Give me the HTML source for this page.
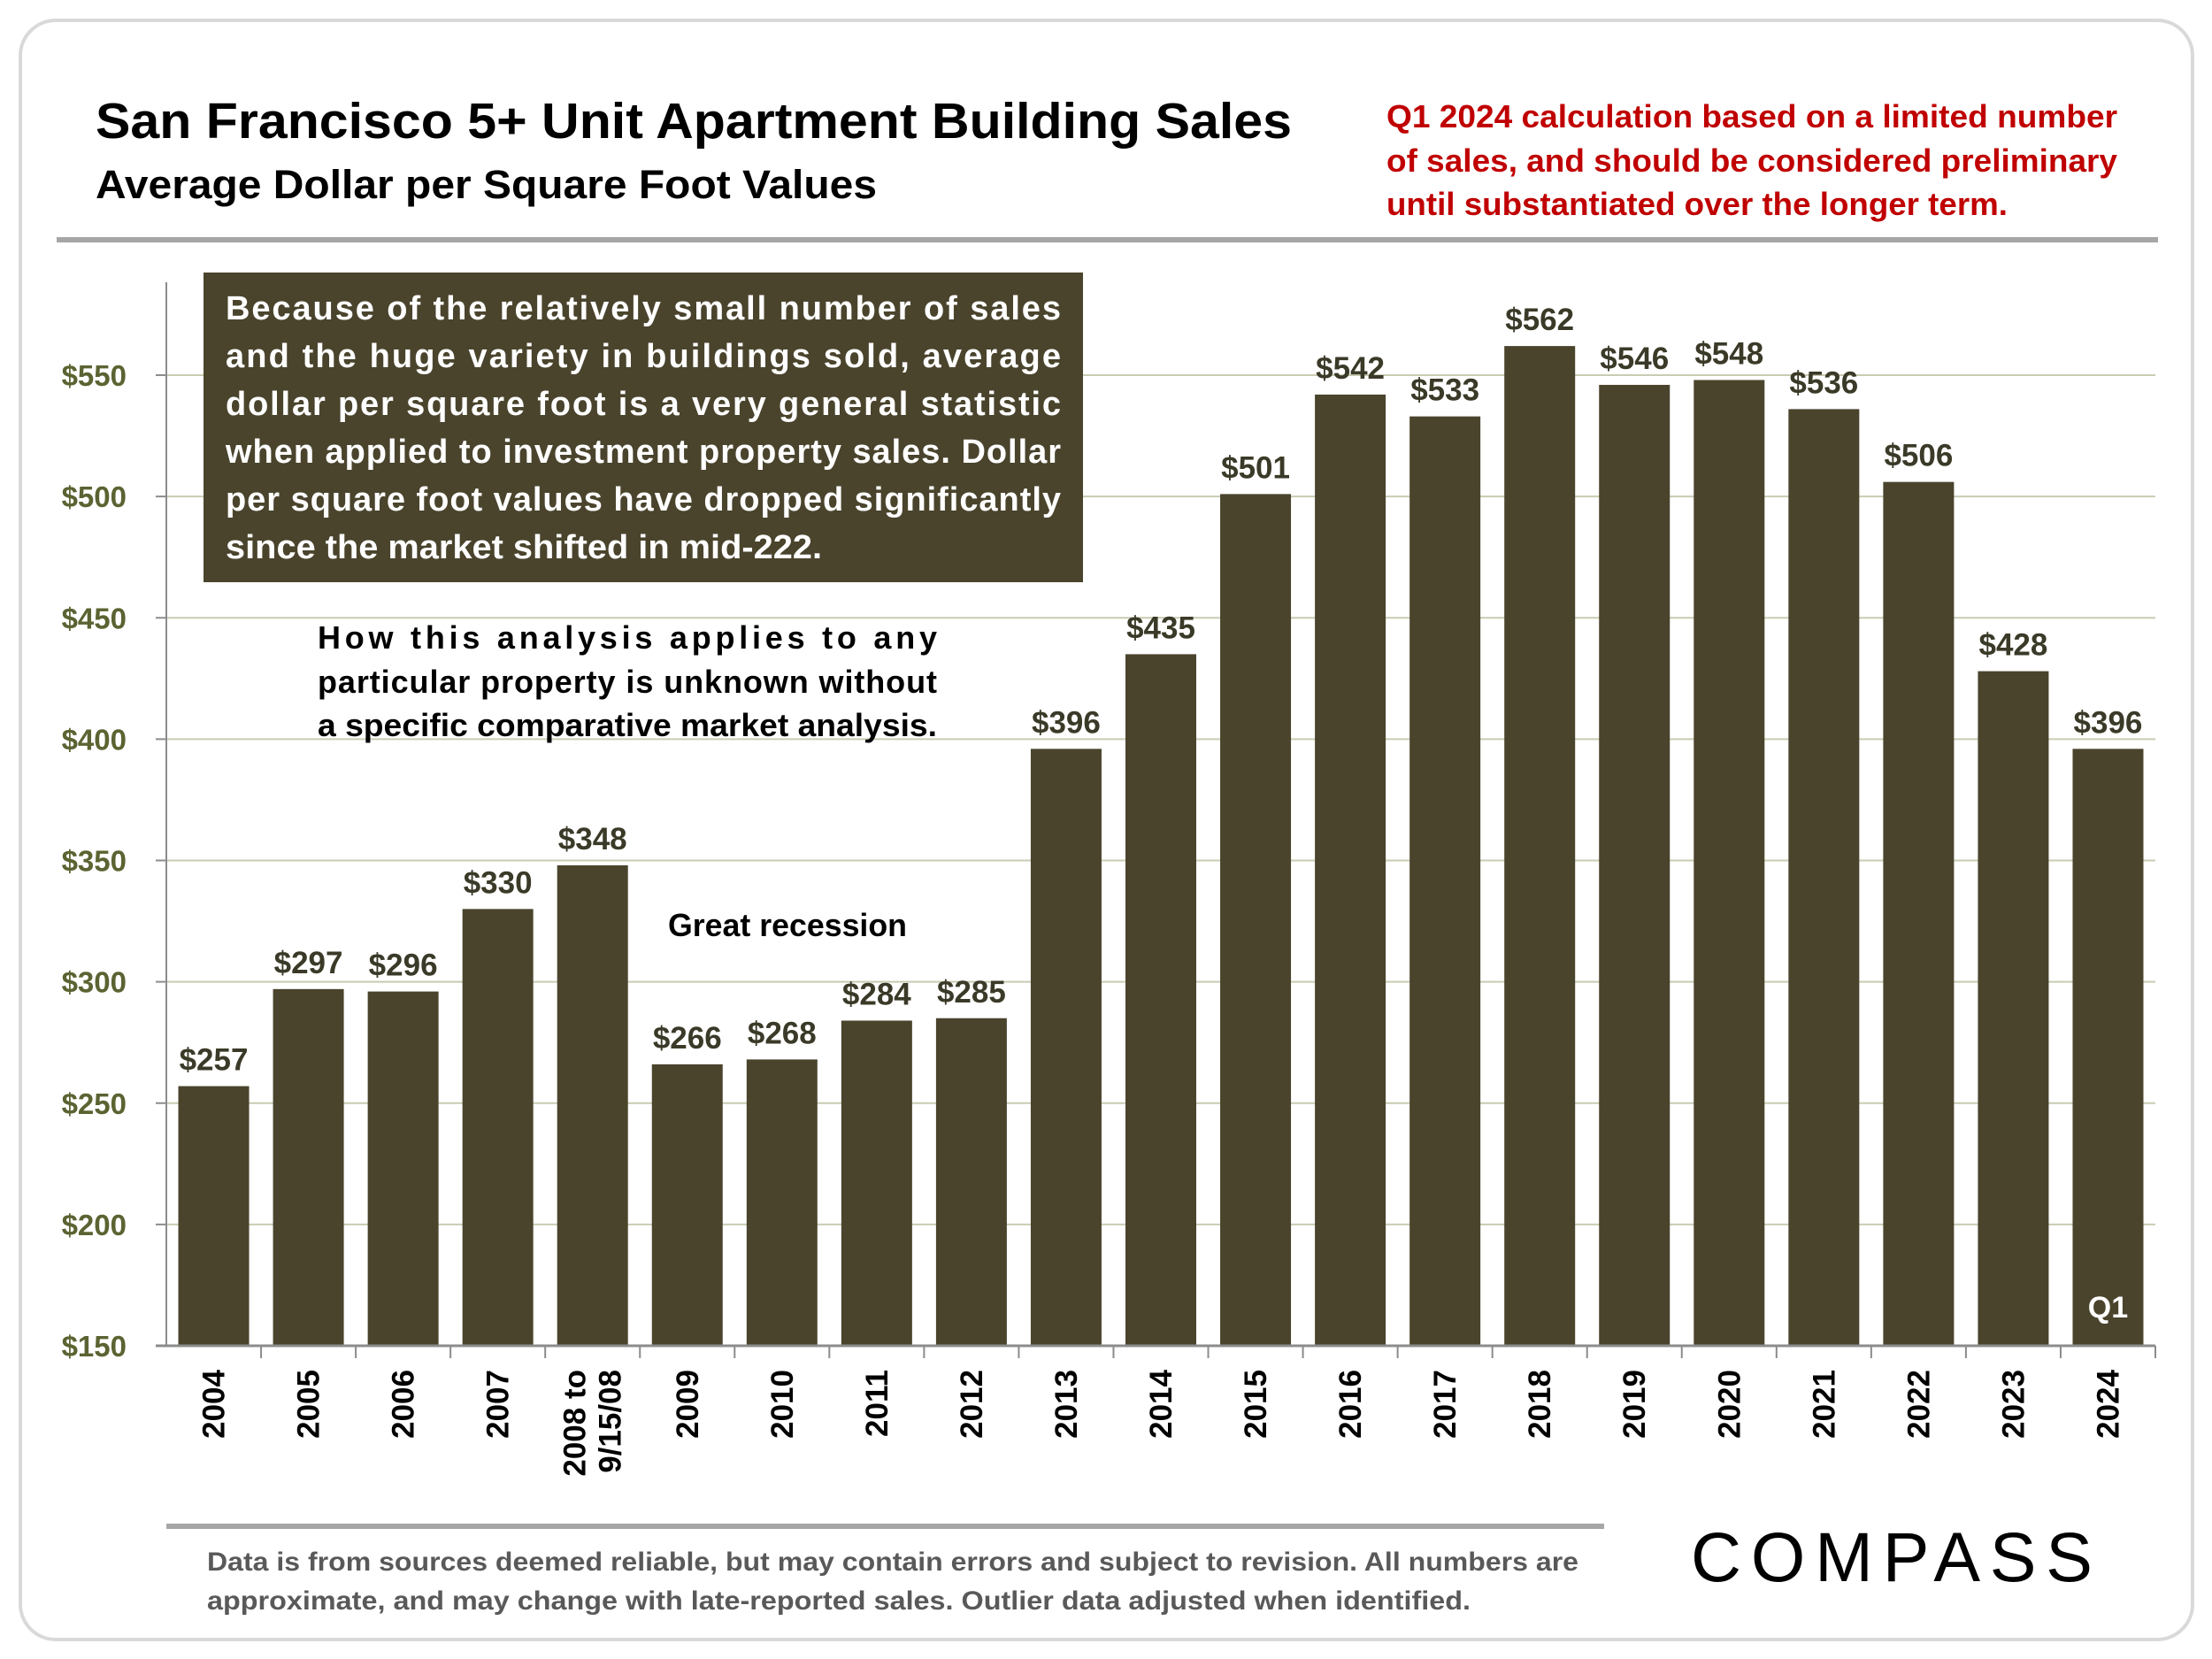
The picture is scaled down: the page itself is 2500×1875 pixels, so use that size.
<!DOCTYPE html>
<html><head><meta charset="utf-8"><style>
html,body{margin:0;padding:0;background:#fff;}
svg{display:block;font-family:"Liberation Sans",sans-serif;}
</style></head><body>
<svg id="chart" width="2500" height="1875" viewBox="0 0 2500 1875" xmlns="http://www.w3.org/2000/svg">
<rect x="23" y="23" width="2455" height="1830" rx="40" fill="#fff" stroke="#d9d9d9" stroke-width="4"/>
<text x="108" y="156" font-size="57" font-weight="bold" fill="#000" textLength="1352" lengthAdjust="spacingAndGlyphs">San Francisco 5+ Unit Apartment Building Sales</text>
<text x="108" y="224" font-size="45" font-weight="bold" fill="#000" textLength="883" lengthAdjust="spacingAndGlyphs">Average Dollar per Square Foot Values</text>
<g font-size="36" font-weight="bold" fill="#c00000">
<text x="1567" y="144" textLength="826" lengthAdjust="spacingAndGlyphs">Q1 2024 calculation based on a limited number</text>
<text x="1567" y="194" textLength="826" lengthAdjust="spacingAndGlyphs">of sales, and should be considered preliminary</text>
<text x="1567" y="243" textLength="702" lengthAdjust="spacingAndGlyphs">until substantiated over the longer term.</text>
</g>
<rect x="64" y="268" width="2375" height="6" fill="#a6a6a6"/>
<g id="grid"></g>
<g id="bars"></g>
<g id="axes"></g>
<rect x="230" y="308" width="994" height="350" fill="#4a442d"/>
<g font-size="38" font-weight="bold" fill="#fff">
<text x="255" y="361" textLength="944" lengthAdjust="spacing">Because of the relatively small number of sales</text>
<text x="255" y="415" textLength="944" lengthAdjust="spacing">and the huge variety in buildings sold, average</text>
<text x="255" y="469" textLength="944" lengthAdjust="spacing">dollar per square foot is a very general statistic</text>
<text x="255" y="523" textLength="944" lengthAdjust="spacing">when applied to investment property sales. Dollar</text>
<text x="255" y="577" textLength="944" lengthAdjust="spacing">per square foot values have dropped significantly</text>
<text x="255" y="631" textLength="674" lengthAdjust="spacingAndGlyphs">since the market shifted in mid-222.</text>
</g>
<g font-size="36" font-weight="bold" fill="#000">
<text x="359" y="733" textLength="700" lengthAdjust="spacing">How this analysis applies to any</text>
<text x="359" y="783" textLength="700" lengthAdjust="spacing">particular property is unknown without</text>
<text x="359" y="832" textLength="700" lengthAdjust="spacingAndGlyphs">a specific comparative market analysis.</text>
</g>
<text x="890" y="1058" font-size="36" font-weight="bold" fill="#000" text-anchor="middle" textLength="270" lengthAdjust="spacingAndGlyphs">Great recession</text>
<rect x="188" y="1722" width="1625" height="6" fill="#a6a6a6"/>
<g font-size="30" font-weight="bold" fill="#595959">
<text x="234" y="1775" textLength="1550" lengthAdjust="spacingAndGlyphs">Data is from sources deemed reliable, but may contain errors and subject to revision. All numbers are</text>
<text x="234" y="1819" textLength="1428" lengthAdjust="spacingAndGlyphs">approximate, and may change with late-reported sales.  Outlier data adjusted when identified.</text>
</g>
<text x="1911" y="1787" font-size="79" fill="#000" textLength="454" lengthAdjust="spacing">COMPASS</text>
</svg>
<script>
const categories = ["2004","2005","2006","2007","2008 to|9/15/08","2009","2010","2011","2012","2013","2014","2015","2016","2017","2018","2019","2020","2021","2022","2023","2024"];
const values = [257,297,296,330,348,266,268,284,285,396,435,501,542,533,562,546,548,536,506,428,396];
const valueLabels = ["$257","$297","$296","$330","$348","$266","$268","$284","$285","$396","$435","$501","$542","$533","$562","$546","$548","$536","$506","$428","$396"];
const yTicks = [150,200,250,300,350,400,450,500,550];
const yTickLabels = ["$150","$200","$250","$300","$350","$400","$450","$500","$550"];

const NS = "http://www.w3.org/2000/svg";
const X0 = 188, X1 = 2436, Y150 = 1521, Y550 = 424;
function yScale(v){ return Y150 - (v-150)*(Y150-Y550)/400; }
const step = (X1 - X0)/categories.length;
function xCenter(i){ return X0 + step*(i+0.5); }
function mk(tag, attrs, parent){ const e=document.createElementNS(NS,tag); for(const k in attrs) e.setAttribute(k,attrs[k]); parent.appendChild(e); return e; }

const grid = document.getElementById('grid');
const axes = document.getElementById('axes');
const bars = document.getElementById('bars');

yTicks.forEach((t,i)=>{
  const y = yScale(t);
  if (i>0) {
    const g = mk('line',{x1:X0,x2:X1,y1:y,y2:y,stroke:'#c9ccb2','stroke-width':2},grid);
    
    
  }
  const tk = mk('line',{x1:X0-12,x2:X0,y1:y,y2:y,stroke:'#8c8c8c','stroke-width':2},axes);
  
  
  const lb = mk('text',{x:143,y:y+12,'font-size':33,'font-weight':'bold',fill:'#5b6332','text-anchor':'end'},axes);
  lb.textContent = yTickLabels[i];
  
  
});

const ya = mk('line',{x1:X0,x2:X0,y1:319,y2:Y150,stroke:'#8c8c8c','stroke-width':2},axes);


const xa = mk('line',{x1:X0-12,x2:X1,y1:Y150,y2:Y150,stroke:'#8c8c8c','stroke-width':3},axes);



const BW = 80;
categories.forEach((c,i)=>{
  const cx = xCenter(i), y = yScale(values[i]);
  const b = mk('rect',{x:cx-BW/2,y:y,width:BW,height:Y150-y,fill:'#4a442d'},bars);
  
  
  const vl = mk('text',{x:cx,y:y-18,'font-size':35,'font-weight':'bold',fill:'#3b3a28','text-anchor':'middle'},bars);
  vl.textContent = valueLabels[i];
  
  
  const tk = mk('line',{x1:X0+step*(i+1),x2:X0+step*(i+1),y1:Y150,y2:Y150+14,stroke:'#8c8c8c','stroke-width':2},axes);
  
  
  const parts = c.split('|');
  parts.forEach((p,j)=>{
    const off = (j - (parts.length-1)/2)*40;
    const tx = cx + off + 12;
    const t = mk('text',{x:tx,y:1548,'font-size':35,'font-weight':'bold',fill:'#000','text-anchor':'end',transform:'rotate(-90 '+tx+' 1548)'},axes);
    t.textContent = p;
    
    
  });
});
const q = mk('text',{x:xCenter(categories.length-1),y:1489,'font-size':34,'font-weight':'bold',fill:'#fff','text-anchor':'middle'},bars);
q.textContent = 'Q1';


</script>
</body></html>
